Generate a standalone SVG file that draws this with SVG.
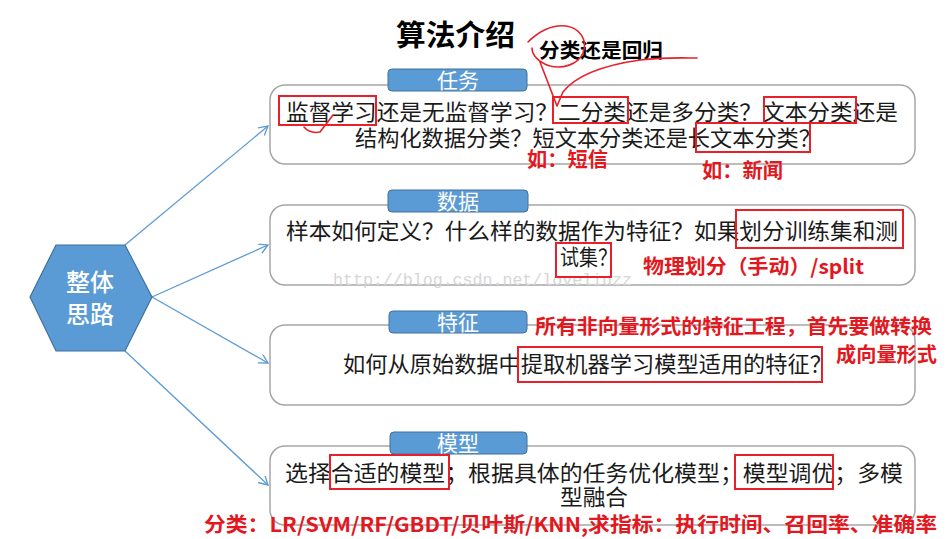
<svg xmlns="http://www.w3.org/2000/svg" width="946" height="539" viewBox="0 0 946 539">
<style>
.box{fill:#ffffff;stroke:#a6a6a6;stroke-width:1.5}
.tag{fill:#5b9bd5;stroke:#41719c;stroke-width:1}
.tagt{font-family:"Noto Sans CJK SC","Noto Sans",sans-serif;font-size:21px;fill:#ffffff;text-anchor:middle}
.bt{font-family:"Noto Sans CJK SC","Noto Sans",sans-serif;font-size:22px;fill:#1a1a1a}
.red{font-family:"Noto Sans CJK SC","Noto Sans",sans-serif;font-size:20px;font-weight:700;fill:#e3171e}
.rr{fill:none;stroke:#e8202a;stroke-width:2}
.pen{fill:none;stroke:#e8202a;stroke-width:1.6;stroke-linecap:round;stroke-linejoin:round}
.con{stroke:#5b9bd5;stroke-width:1.3;fill:none}
</style>
<defs>
<marker id="arr" markerWidth="12" markerHeight="12" refX="9" refY="5" orient="auto" markerUnits="userSpaceOnUse">
<path d="M0,0 L9,5 L0,10" fill="none" stroke="#5b9bd5" stroke-width="1.3"/>
</marker>
</defs>
<rect width="946" height="539" fill="#ffffff"/>

<g id="title">
<text x="396" y="46" font-family="'Noto Sans CJK SC',sans-serif" font-size="29" font-weight="700" fill="#000" textLength="119" lengthAdjust="spacingAndGlyphs">算法介绍</text>
</g>

<g id="connectors">
<line class="con" x1="125" y1="245" x2="268" y2="126" marker-end="url(#arr)"/>
<line class="con" x1="152" y1="297" x2="268" y2="245" marker-end="url(#arr)"/>
<line class="con" x1="152" y1="297" x2="268" y2="363" marker-end="url(#arr)"/>
<line class="con" x1="125" y1="351" x2="268" y2="485" marker-end="url(#arr)"/>
</g>

<g id="hub">
<polygon points="30,297 56,245 125,245 152,297 125,351 56,351" fill="#5b9bd5" stroke="#41719c" stroke-width="1.2"/>
<text x="90" y="291" font-family="'Noto Sans CJK SC',sans-serif" font-size="24" font-weight="500" fill="#fff" text-anchor="middle">整体</text>
<text x="90" y="323" font-family="'Noto Sans CJK SC',sans-serif" font-size="24" font-weight="500" fill="#fff" text-anchor="middle">思路</text>
</g>

<g id="task">
<rect class="box" x="270" y="85" width="645" height="79" rx="15"/>
<rect class="tag" x="388" y="69" width="139" height="22" rx="4"/>
<text class="tagt" x="458" y="88">任务</text>
<text class="bt" x="286" y="120" textLength="612" lengthAdjust="spacingAndGlyphs">监督学习还是无监督学习？二分类还是多分类？文本分类还是</text>
<text class="bt" x="355" y="146" textLength="466" lengthAdjust="spacingAndGlyphs">结构化数据分类？短文本分类还是长文本分类？</text>
</g>

<g id="data">
<rect class="box" x="270" y="205" width="645" height="80" rx="15"/>
<rect class="tag" x="388" y="190" width="140" height="22" rx="4"/>
<text class="tagt" x="458" y="209">数据</text>
<text class="bt" x="286" y="239" textLength="612" lengthAdjust="spacingAndGlyphs">样本如何定义？什么样的数据作为特征？如果划分训练集和测</text>
<text class="bt" x="560" y="265" textLength="57" lengthAdjust="spacingAndGlyphs">试集？</text>
</g>

<g id="watermark">
<text x="333" y="285" font-family="'Liberation Mono',monospace" font-size="16.5" fill="#d6d6d6" textLength="299" lengthAdjust="spacingAndGlyphs">http://blog.csdn.net/loveliuzz</text>
</g>

<g id="feature">
<rect class="box" x="270" y="325" width="645" height="80" rx="15"/>
<rect class="tag" x="389" y="311" width="138" height="22" rx="4"/>
<text class="tagt" x="458" y="330">特征</text>
<text class="bt" x="343" y="372" textLength="489" lengthAdjust="spacingAndGlyphs">如何从原始数据中提取机器学习模型适用的特征？</text>
</g>

<g id="model">
<rect class="box" x="270" y="446" width="645" height="79" rx="15"/>
<rect class="tag" x="390" y="432" width="137" height="22" rx="4"/>
<text class="tagt" x="458" y="451">模型</text>
<text class="bt" x="285" y="481" textLength="618" lengthAdjust="spacingAndGlyphs">选择合适的模型；根据具体的任务优化模型；模型调优；多模</text>
<text class="bt" x="560" y="505" textLength="68" lengthAdjust="spacingAndGlyphs">型融合</text>
</g>

<g id="annotations">
<text x="539" y="58" font-family="'Noto Sans CJK SC',sans-serif" font-size="20" font-weight="700" fill="#000" textLength="124" lengthAdjust="spacingAndGlyphs">分类还是回归</text>
<path class="pen" d="M528 42 C538 32 552 24 566 26 C580 28 588 40 583 53 C578 65 562 69 550 66 C540 63 532 56 532 48"/>
<path class="pen" d="M540 62 L557 106 L563 92 C574 78 598 66 640 60 C665 57 685 58 697 58"/>
<rect class="rr" x="279" y="96" width="97" height="29"/>
<path class="pen" d="M304 127 Q310 134 320 132 L333 115"/>
<rect class="rr" x="553" y="97" width="75" height="26"/>
<rect class="rr" x="764" y="97" width="92" height="26"/>
<rect class="rr" x="696" y="123" width="114" height="29"/>
<text class="red" x="527" y="167" font-size="19" textLength="81" lengthAdjust="spacingAndGlyphs">如：短信</text>
<text class="red" x="702" y="178" font-size="19" textLength="81" lengthAdjust="spacingAndGlyphs">如：新闻</text>
<rect class="rr" x="736" y="210" width="167" height="38"/>
<rect class="rr" x="556" y="243" width="55" height="34"/>
<text class="red" x="643" y="274" textLength="221" lengthAdjust="spacingAndGlyphs">物理划分（手动）/split</text>
<text class="red" x="535" y="334" textLength="397" lengthAdjust="spacingAndGlyphs">所有非向量形式的特征工程，首先要做转换</text>
<text class="red" x="836" y="362" textLength="101" lengthAdjust="spacingAndGlyphs">成向量形式</text>
<rect class="rr" x="518" y="347" width="304" height="35"/>
<rect class="rr" x="330" y="455" width="119" height="34"/>
<rect class="rr" x="735" y="455" width="98" height="34"/>
<text class="red" x="204" y="532" textLength="733" lengthAdjust="spacingAndGlyphs">分类：LR/SVM/RF/GBDT/贝叶斯/KNN,求指标：执行时间、召回率、准确率</text>
</g>
</svg>
